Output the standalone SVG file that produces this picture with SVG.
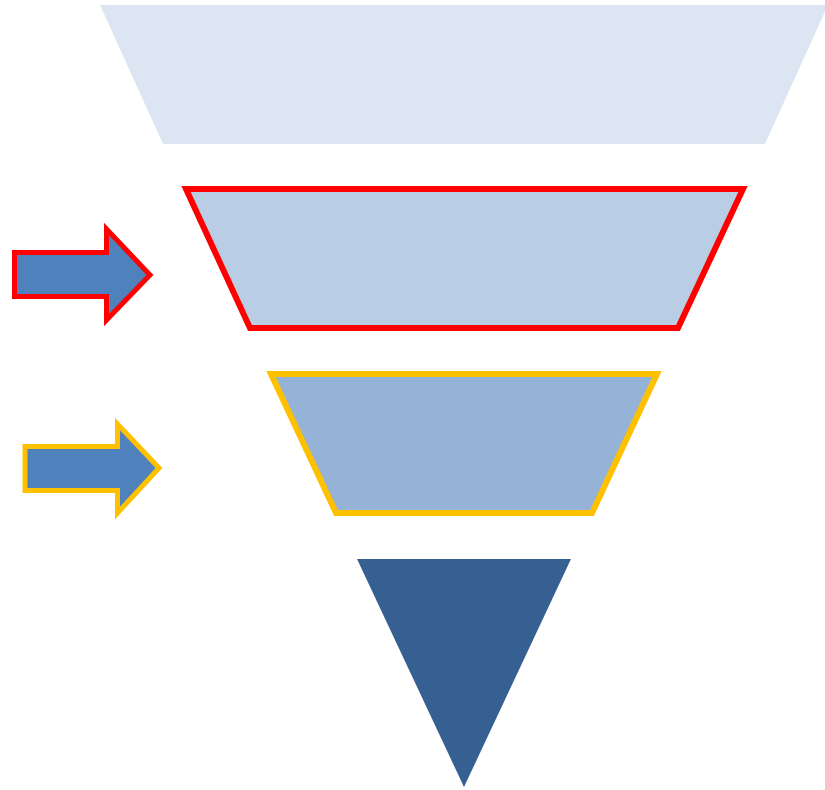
<svg xmlns="http://www.w3.org/2000/svg" width="825" height="790" viewBox="0 0 825 790">
  <style>
    .arrow { fill: #4F81BD; stroke-width: 5; stroke-linejoin: miter; stroke-miterlimit: 10; }
    .tier { stroke-width: 6; stroke-linejoin: miter; stroke-miterlimit: 10; }
  </style>
  <rect x="0" y="0" width="825" height="790" fill="#FFFFFF"/>
  <g id="tier1">
    <polygon points="100,5 828,5 765,144 163,144" fill="#DCE6F2"/>
  </g>
  <g id="tier2">
    <polygon class="tier" points="186,189 743,189 678,328 250,328" fill="#B9CDE5" stroke="#FF0000"/>
  </g>
  <g id="tier3">
    <polygon class="tier" points="271,374 657,374 592,513 336,513" fill="#95B3D7" stroke="#FFC000"/>
  </g>
  <g id="tier4">
    <polygon points="357,559 571,559 464,787" fill="#376092"/>
  </g>
  <g id="connectors">
    <g id="arrow-red">
      <polygon class="arrow" stroke="#FF0000" points="14.5,252.5 106.5,252.5 106.5,229 150,275 106.5,320 106.5,296.5 14.5,296.5"/>
    </g>
    <g id="arrow-yellow">
      <polygon class="arrow" stroke="#FFC000" points="25,446.5 117.5,446.5 117.5,424 159,468 117.5,513 117.5,490.5 25,490.5"/>
    </g>
  </g>
</svg>
